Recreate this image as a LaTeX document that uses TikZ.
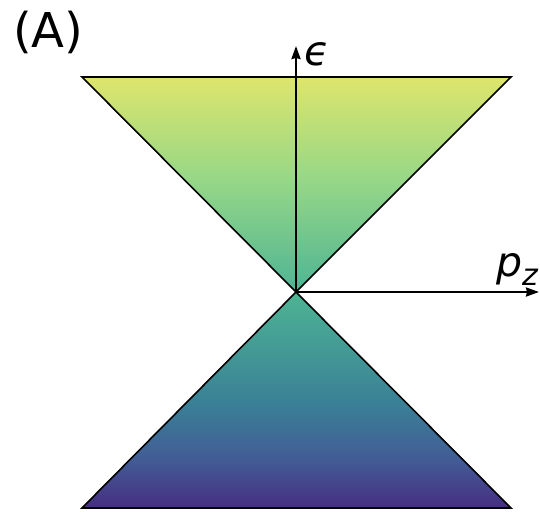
\documentclass[tikz,border=0pt]{standalone}
\usepackage{fontspec}
\setmainfont{DejaVu Sans}
\usetikzlibrary{arrows.meta}
\definecolor{viriA}{RGB}{70,45,128}
\definecolor{viriB}{RGB}{66,92,150}
\definecolor{viriC}{RGB}{58,130,150}
\definecolor{viriD}{RGB}{78,180,148}
\definecolor{viriE}{RGB}{150,215,135}
\definecolor{viriF}{RGB}{222,229,108}
\pgfdeclareverticalshading{viri}{100bp}{color(0bp)=(viriA); color(25bp)=(viriA);
  color(30.57bp)=(viriB); color(37.53bp)=(viriC); color(50.06bp)=(viriD);
  color(63.05bp)=(viriE); color(75bp)=(viriF); color(100bp)=(viriF)}
\tikzset{
  cono/.style={draw=black, line width=1.6pt, line join=miter, shade, shading=viri},
  eje/.style={-{Stealth[length=13pt,width=9pt,inset=1pt]}, line width=2.2pt},
  etq/.style={font=\fontsize{41}{41}\selectfont\itshape, inner sep=0pt},
}
\begin{document}
\begin{tikzpicture}[x=1pt, y=-1pt]
  \useasboundingbox (0,0) rectangle (540,511);
  % cones
  \coordinate (o) at (296,292);
  \path[cono] (82,77) -- (511,77) -- (o) -- cycle
              (82,508) -- (511,508) -- (o) -- cycle;
  % axes
  \coordinate (etop) at (296,46);
  \coordinate (pend) at (539,292);
  \draw[eje] (o) -- (etop);
  \draw[eje] (o) -- (pend);
  \node[etq, anchor=base west] (eps) at (304,66) {ϵ};
  \node[etq, anchor=base west] (pz) at (496,276) {p\raisebox{-9pt}{\fontsize{30}{30}\selectfont z}};
  \node[font=\fontsize{48}{48}\selectfont, anchor=north west, inner sep=0pt] (lblA) at (13,11) {(A)};
\end{tikzpicture}
\end{document}
